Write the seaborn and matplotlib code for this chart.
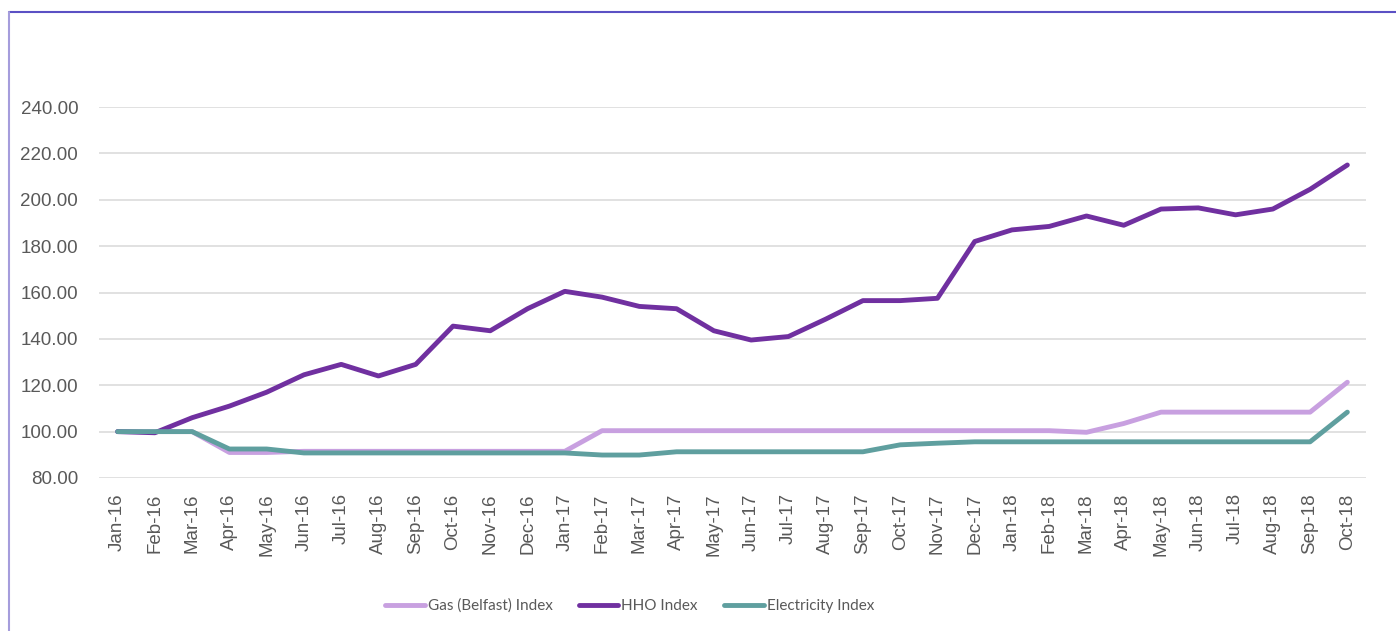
import matplotlib
matplotlib.use('Agg')
import matplotlib.pyplot as plt
import matplotlib.lines as mlines
import numpy as np
import pandas as pd
import seaborn as sns

# Data
months = ['Jan-16', 'Feb-16', 'Mar-16', 'Apr-16', 'May-16', 'Jun-16', 'Jul-16', 'Aug-16',
          'Sep-16', 'Oct-16', 'Nov-16', 'Dec-16', 'Jan-17', 'Feb-17', 'Mar-17', 'Apr-17',
          'May-17', 'Jun-17', 'Jul-17', 'Aug-17', 'Sep-17', 'Oct-17', 'Nov-17', 'Dec-17',
          'Jan-18', 'Feb-18', 'Mar-18', 'Apr-18', 'May-18', 'Jun-18', 'Jul-18', 'Aug-18',
          'Sep-18', 'Oct-18']

gas = [100.0, 100.0, 100.0, 91.0, 91.0, 91.5, 91.5, 91.5,
       91.5, 91.5, 91.5, 91.5, 91.5, 100.4, 100.4, 100.4,
       100.4, 100.4, 100.4, 100.4, 100.4, 100.4, 100.4, 100.4,
       100.4, 100.4, 99.7, 103.5, 108.4, 108.4, 108.4, 108.4,
       108.4, 121.3]

hho = [100.0, 99.5, 106.0, 111.0, 117.0, 124.5, 129.0, 124.0,
       129.0, 145.5, 143.5, 153.0, 160.5, 158.0, 154.0, 153.0,
       143.5, 139.5, 141.0, 148.5, 156.5, 156.5, 157.5, 182.0,
       187.0, 188.5, 193.0, 189.0, 196.0, 196.5, 193.5, 196.0,
       204.5, 215.0]

electricity = [100.0, 100.0, 100.0, 92.5, 92.5, 90.8, 90.8, 90.8,
               90.8, 90.8, 90.8, 90.8, 90.8, 89.9, 89.9, 91.3,
               91.3, 91.3, 91.3, 91.3, 91.3, 94.3, 95.0, 95.6,
               95.6, 95.6, 95.6, 95.6, 95.6, 95.6, 95.6, 95.6,
               95.6, 108.4]

series_names = ['Gas (Belfast) Index', 'HHO Index', 'Electricity Index']
colors = ['#c8a0e0', '#7030a0', '#5f9f9f']

yticks = [80, 100, 120, 140, 160, 180, 200, 220, 240]

#%%
# Long-form table for seaborn
df = pd.DataFrame({
    'Month': months * 3,
    'Index': gas + hho + electricity,
    'Series': np.repeat(series_names, len(months)),
})

sns.set_theme(style='white')
plt.rcParams['font.family'] = ['Liberation Sans', 'DejaVu Sans']
text_col = '#595959'

fig = plt.figure(figsize=(13.96, 6.31), dpi=100)
ax = fig.add_axes([0.0709, 0.2425, 0.9076, 0.5879])

sns.lineplot(data=df, x='Month', y='Index', hue='Series', hue_order=series_names,
             palette=colors, sort=False, linewidth=3.5, ax=ax,
             solid_capstyle='round', solid_joinstyle='round')

ax.set_xlim(-0.5, len(months) - 0.5)
ax.set_ylim(80, 240)
ax.set_yticks(yticks)
ax.set_yticklabels([f'{v:.2f}' for v in yticks])
ax.set_xticks(range(len(months)))
ax.set_xticklabels(months, rotation=90)
ax.tick_params(axis='both', labelsize=13.5, colors=text_col, length=0)
ax.tick_params(axis='y', pad=15)
ax.tick_params(axis='x', pad=11)
ax.yaxis.grid(True, color='#d9d9d9', linewidth=1.1)
ax.set_axisbelow(True)
ax.set_xlabel('')
ax.set_ylabel('')
for s in ax.spines.values():
    s.set_visible(False)

# Legend at the bottom centre
handles, labels = ax.get_legend_handles_labels()
ax.get_legend().remove()
fig.legend(handles, labels, loc='center', bbox_to_anchor=(0.451, 0.0396),
           ncol=3, frameon=False, handlelength=2.6, handletextpad=0.2,
           columnspacing=1.7, prop={'family': 'Lato', 'size': 11},
           labelcolor=text_col)

# Chart frame (top and left edges visible in the crop)
fig.add_artist(mlines.Line2D([9 / 1396, 1.0], [1 - 12 / 631, 1 - 12 / 631],
                             transform=fig.transFigure, color='#5b50c4', linewidth=1.5))
fig.add_artist(mlines.Line2D([9 / 1396, 9 / 1396], [0.0, 1 - 12 / 631],
                             transform=fig.transFigure, color='#a59ddc', linewidth=1.5))

fig.savefig('out.png', dpi=100)
